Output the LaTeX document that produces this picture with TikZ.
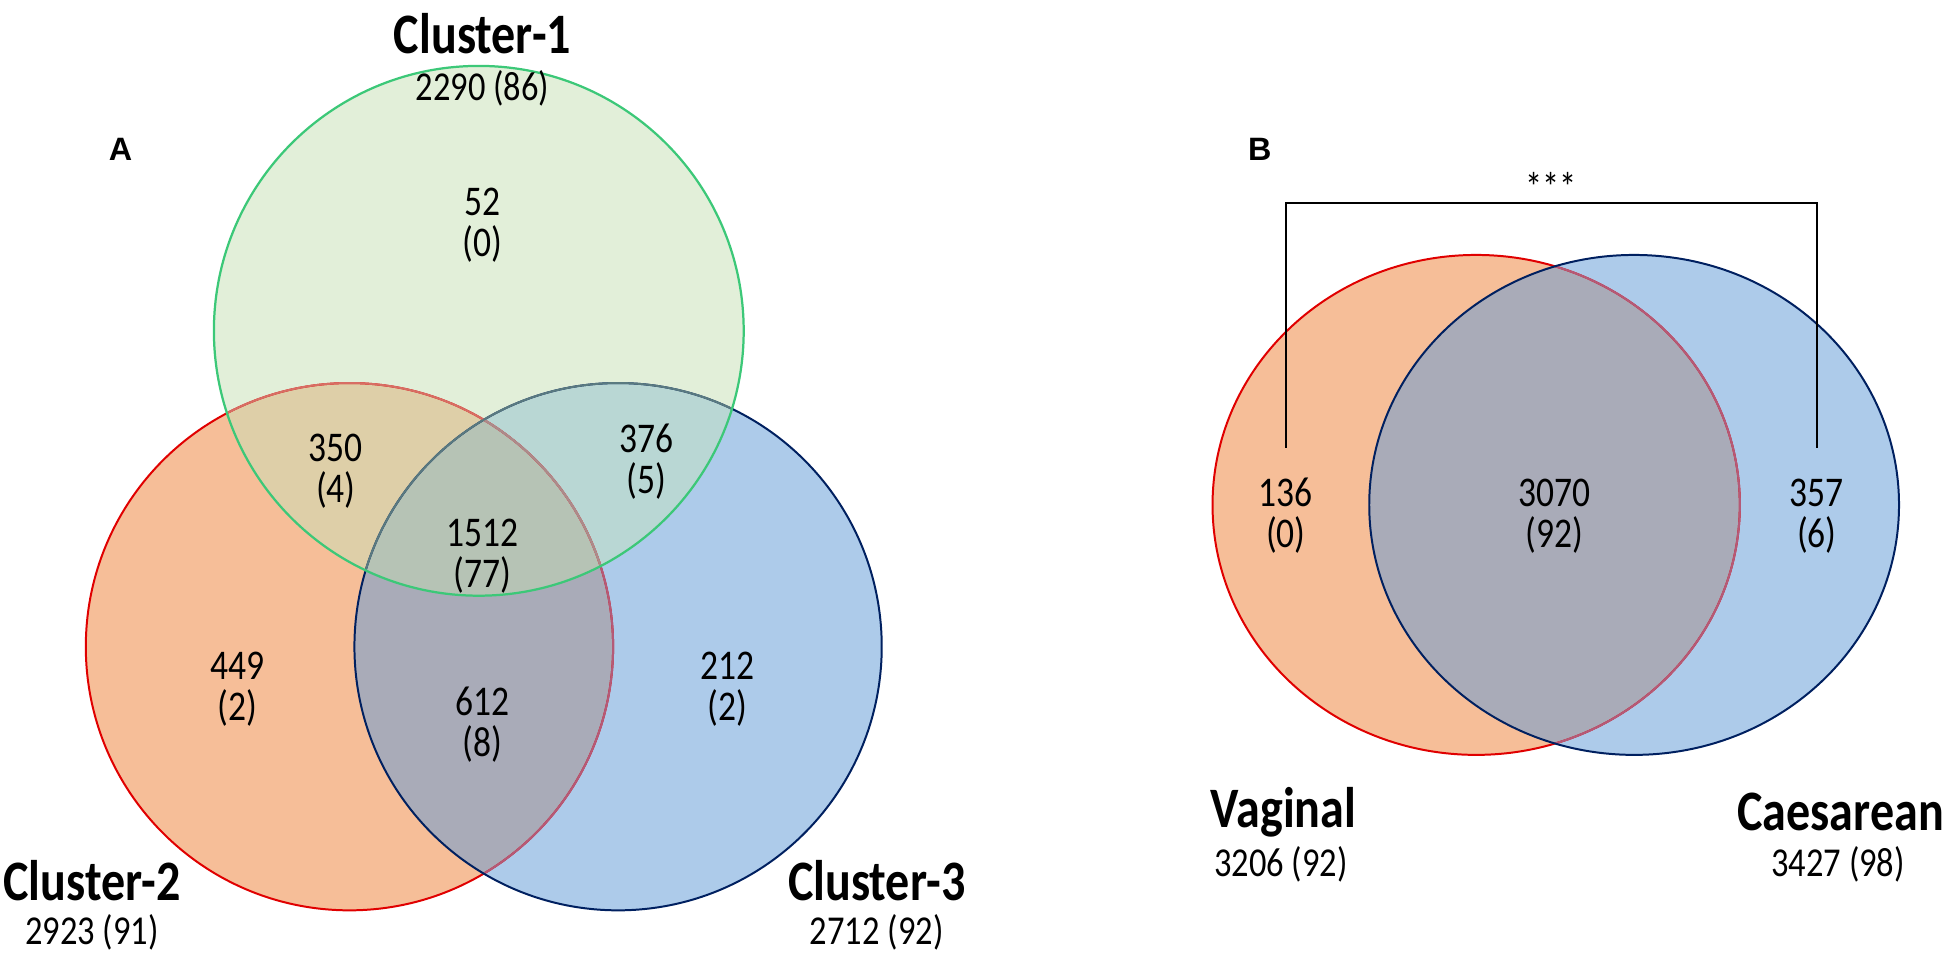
\documentclass[tikz,border=0pt]{standalone}
\usepackage{fontspec}
\setmainfont{Carlito}[FakeStretch=0.84]
\newfontfamily\panelfont{Liberation Sans}
\definecolor{redonly}{RGB}{246,190,152}
\definecolor{blueonly}{RGB}{173,203,234}
\definecolor{greenonly}{RGB}{226,239,217}
\definecolor{rgcol}{RGB}{222,207,168}
\definecolor{bgcol}{RGB}{185,215,212}
\definecolor{rbcol}{RGB}{169,171,184}
\definecolor{rgbcol}{RGB}{182,195,181}
\definecolor{redline}{RGB}{224,0,0}
\definecolor{redunderblue}{RGB}{180,90,120}
\definecolor{redundergreen}{RGB}{215,110,100}
\definecolor{redundergb}{RGB}{170,140,140}
\definecolor{blueline}{RGB}{0,32,96}
\definecolor{blueundergreen}{RGB}{90,122,128}
\definecolor{greenline}{RGB}{60,200,120}
\tikzset{
  num/.style={align=center,font=\fontsize{34}{33}\selectfont,inner sep=0pt},
  title/.style={font=\fontsize{46}{48}\selectfont\bfseries,inner sep=0pt},
  sub/.style={font=\fontsize{33}{35}\selectfont,inner sep=0pt},
  panel/.style={font=\fontsize{26}{28}\selectfont\panelfont\bfseries,inner sep=0pt},
  bracket/.style={line width=1.6pt,black}
}
\def\Cg{(385,266) circle[radius=213pt]}
\def\Cr{(281,520) circle[radius=212pt]}
\def\Cb{(497,520) circle[radius=212pt]}
\def\Ev{(1187,406) ellipse[x radius=212pt,y radius=201pt]}
\def\Ec{(1314,406) ellipse[x radius=213pt,y radius=201pt]}
\begin{document}
\begin{tikzpicture}[x=1pt,y=-1pt]
\useasboundingbox (0,0) rectangle (1568,767);
% ---------- Panel A fills
\fill[redonly] \Cr;
\fill[blueonly] \Cb;
\fill[greenonly] \Cg;
\begin{scope}\clip \Cr; \fill[rbcol] \Cb;\end{scope}
\begin{scope}\clip \Cr; \fill[rgcol] \Cg;\end{scope}
\begin{scope}\clip \Cb; \fill[bgcol] \Cg;\end{scope}
\begin{scope}\clip \Cr; \clip \Cb; \fill[rgbcol] \Cg;\end{scope}
% ---------- Panel A outlines
\draw[redline,line width=1.6pt] \Cr;
\begin{scope}\clip \Cb; \draw[redunderblue,line width=1.6pt] \Cr;\end{scope}
\draw[blueline,line width=1.6pt] \Cb;
\begin{scope}\clip \Cg; \draw[redundergreen,line width=1.6pt] \Cr;\end{scope}
\begin{scope}\clip \Cg; \clip \Cb; \draw[redundergb,line width=1.6pt] \Cr;\end{scope}
\begin{scope}\clip \Cg; \draw[blueundergreen,line width=1.6pt] \Cb;\end{scope}
\draw[greenline,line width=1.8pt] \Cg;
% ---------- Panel A texts
\node[panel] (pa) at (97,120) {A};
\node[title] (c1) at (388,27) {Cluster-1};
\node[sub] (c1n) at (388,71) {2290 (86)};
\node[title] (c2) at (74,708) {Cluster-2};
\node[sub] (c2n) at (74,750) {2923 (91)};
\node[title] (c3) at (705,708) {Cluster-3};
\node[sub] (c3n) at (705,750) {2712 (92)};
\node[num] (a1) at (388,181) {52\\(0)};
\node[num] (a12) at (270,379) {350\\(4)};
\node[num] (a13) at (520,371) {376\\(5)};
\node[num] (a123) at (388,447) {1512\\(77)};
\node[num] (a2) at (191,554) {449\\(2)};
\node[num] (a23) at (388,583) {612\\(8)};
\node[num] (a3) at (585,554) {212\\(2)};
% ---------- Panel B fills
\fill[redonly] \Ev;
\fill[blueonly] \Ec;
\begin{scope}\clip \Ev; \fill[rbcol] \Ec;\end{scope}
\draw[redline,line width=1.6pt] \Ev;
\begin{scope}\clip \Ec; \draw[redunderblue,line width=1.6pt] \Ev;\end{scope}
\draw[blueline,line width=1.6pt] \Ec;
% ---------- Panel B texts
\node[panel] (pb) at (1013,120) {B};
\node[num] (bv) at (1034,415) {136\\(0)};
\node[num] (bvc) at (1250,415) {3070\\(92)};
\node[num] (bc) at (1461,415) {357\\(6)};
\node[title] (tv) at (1032,653) {Vaginal};
\node[sub] (tvn) at (1030,695) {3206 (92)};
\node[title] (tc) at (1480,653) {Caesarean};
\node[sub] (tcn) at (1478,695) {3427 (98)};
% bracket
\coordinate (bl) at (1034,360);
\coordinate (br) at (1461,360);
\coordinate (tl) at (1034,163);
\coordinate (tr) at (1461,163);
\draw[bracket] (bl) -- (tl) -- (tr) -- (br);
\node[sub] (stars) at (1247,150) {***};
\end{tikzpicture}
\end{document}
